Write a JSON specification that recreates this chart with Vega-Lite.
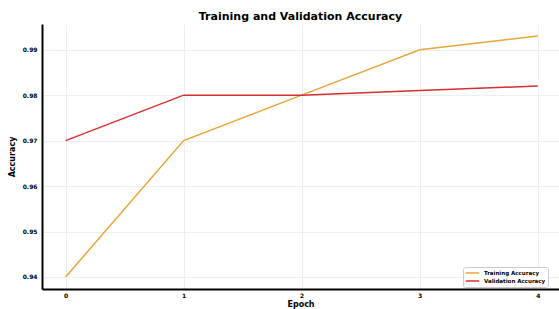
{
  "$schema": "https://vega.github.io/schema/vega-lite/v6.json",
  "autosize": "none",
  "width": 517,
  "height": 265,
  "padding": {"left": 42, "top": 24, "right": 0, "bottom": 20},
  "background": "white",
  "title": {"text": "Training and Validation Accuracy", "font": "DejaVu Sans", "fontSize": 11, "fontWeight": "bold", "color": "black", "anchor": "middle", "offset": 2},
  "config": {
    "view": {"stroke": null},
    "font": "DejaVu Sans"
  },
  "data": {"values": [
    {"epoch": 0, "acc": 0.94, "series": "Training Accuracy"},
    {"epoch": 1, "acc": 0.97, "series": "Training Accuracy"},
    {"epoch": 2, "acc": 0.98, "series": "Training Accuracy"},
    {"epoch": 3, "acc": 0.99, "series": "Training Accuracy"},
    {"epoch": 4, "acc": 0.993, "series": "Training Accuracy"},
    {"epoch": 0, "acc": 0.97, "series": "Validation Accuracy"},
    {"epoch": 1, "acc": 0.98, "series": "Validation Accuracy"},
    {"epoch": 2, "acc": 0.98, "series": "Validation Accuracy"},
    {"epoch": 3, "acc": 0.981, "series": "Validation Accuracy"},
    {"epoch": 4, "acc": 0.982, "series": "Validation Accuracy"}
  ]},
  "mark": {"type": "line", "strokeWidth": 1.5, "clip": false},
  "encoding": {
    "x": {"field": "epoch", "type": "quantitative", "title": "Epoch",
      "scale": {"domain": [-0.2, 4.18], "nice": false, "zero": false},
      "axis": {"values": [0, 1, 2, 3, 4], "format": "d", "grid": true, "gridColor": "#e6e6e6", "gridWidth": 0.7,
        "domainColor": "black", "domainWidth": 2, "ticks": false, "labelPadding": 3,
        "labelFont": "DejaVu Sans", "labelFontSize": 6, "labelFontWeight": "bold", "labelColor": "black",
        "titleFont": "DejaVu Sans", "titleFontSize": 8, "titleFontWeight": "bold", "titleColor": "black", "titlePadding": 2}},
    "y": {"field": "acc", "type": "quantitative", "title": "Accuracy",
      "scale": {"domain": [0.93735, 0.99565], "nice": false, "zero": false},
      "axis": {"values": [0.94, 0.95, 0.96, 0.97, 0.98, 0.99], "format": ".2f", "grid": true, "gridColor": "#e6e6e6", "gridWidth": 0.7,
        "domainColor": "black", "domainWidth": 2, "ticks": false, "labelPadding": 5,
        "labelFont": "DejaVu Sans", "labelFontSize": 6, "labelFontWeight": "bold", "labelColor": "black",
        "titleFont": "DejaVu Sans", "titleFontSize": 8, "titleFontWeight": "bold", "titleColor": "black", "titlePadding": 6}},
    "color": {"field": "series", "type": "nominal",
      "scale": {"domain": ["Training Accuracy", "Validation Accuracy"], "range": ["#eaa53a", "#d42f2f"]},
      "legend": {"title": null, "orient": "none", "legendX": 421, "legendY": 243, "symbolType": "stroke", "symbolSize": 180, "symbolStrokeWidth": 1.5, "clipHeight": 8,
        "labelFont": "DejaVu Sans", "labelFontSize": 5.5, "labelFontWeight": "bold", "labelColor": "black", "labelOffset": 4,
        "rowPadding": 0, "padding": 2, "strokeColor": "#cccccc", "fillColor": "white", "cornerRadius": 2}}
  }
}
